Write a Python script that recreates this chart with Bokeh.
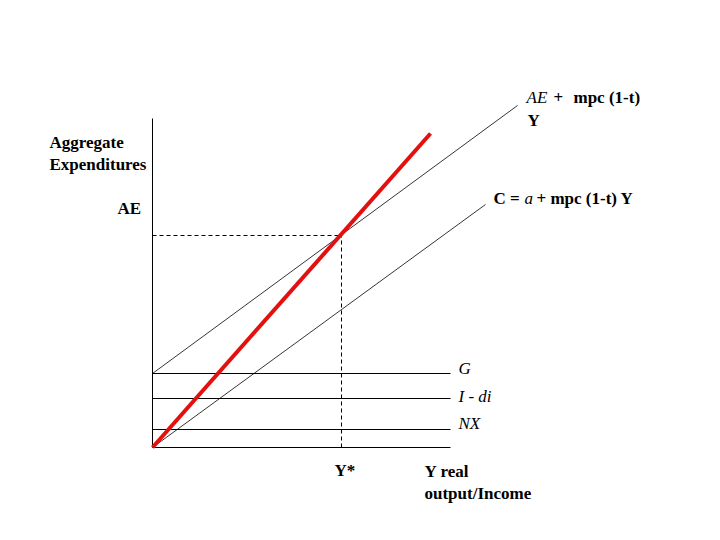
from bokeh.plotting import figure
from bokeh.models import Range1d
from bokeh.core.properties import value
from bokeh.embed import file_html
from bokeh.resources import INLINE

# Conceptual diagram values (arbitrary units: income Y on x, expenditures on y)
nx_level = 18
idi_level = 49
g_level = 74
y_star = 189
ae_star = 212
hline_end = 298
axis_top = 329
ae_line_x = [0, 365]
ae_line_y = [74, 342]
c_line_x = [0, 333]
c_line_y = [0, 243]
red_x = [0, 278]
red_y = [0, 314]

p = figure(width=704, height=524, output_backend="svg", toolbar_location=None,
           x_range=Range1d(-152, 552), y_range=Range1d(-77, 447),
           min_border=0)
p.axis.visible = False
p.grid.visible = False
p.outline_line_color = None
p.background_fill_color = "white"
p.border_fill_color = "white"

# axes
p.line([0, 0], [0, axis_top], line_color="black", line_width=1)
# horizontal component lines
for lvl in [0, nx_level, idi_level, g_level]:
    p.line([0, hline_end], [lvl, lvl], line_color="black", line_width=1)

# AE and C lines
p.line(ae_line_x, ae_line_y, line_color="black", line_width=0.8)
p.line(c_line_x, c_line_y, line_color="black", line_width=0.8)

# dashed equilibrium guides
p.line([y_star, y_star], [0, ae_star], line_color="black", line_width=1, line_dash="4 3")
p.line([0, y_star], [ae_star, ae_star], line_color="black", line_width=1, line_dash="4 3")

# 45-degree red line
p.line(red_x, red_y, line_color="#e31010", line_width=4)

font = value("Liberation Serif")

def txt(x, y, s, style="bold", size="17px", align="left"):
    p.text([x], [y], text=[s], text_font=font, text_font_size=size,
           text_font_style=style, text_baseline="middle", text_align=align,
           text_color="black")

# labels (positions relative to origin)
txt(-103, 447 - 142, "Aggregate")
txt(-103, 447 - 164, "Expenditures")
txt(-35, 447 - 208, "AE")
txt(374, 447 - 97, "AE", style="italic")
txt(401, 447 - 97, "+")
txt(421, 447 - 97, "mpc (1-t)")
txt(375, 447 - 120, "Y")
txt(341, 447 - 198, "C =")
txt(372, 447 - 198, "a", style="italic")
txt(384, 447 - 198, "+ mpc (1-t) Y")
txt(306, 447 - 368, "G", style="italic")
txt(306, 447 - 396, "I - di", style="italic")
txt(306, 447 - 423, "NX", style="italic")
txt(182, 447 - 470, "Y*")
txt(272, 447 - 471, "Y real")
txt(272, 447 - 493, "output/Income")

open("out.html", "w").write(file_html(p, INLINE))
